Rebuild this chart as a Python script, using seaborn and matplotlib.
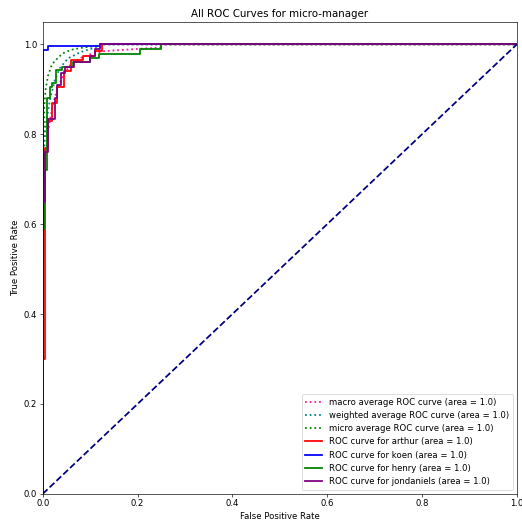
import matplotlib
matplotlib.use("Agg")
import matplotlib.pyplot as plt
import seaborn as sns

plt.rcParams["font.size"] = 10.6

title = "All ROC Curves for micro-manager"

macro_fpr = [0, 0, 0.004, 0.01, 0.02, 0.03, 0.045, 0.06, 0.08, 0.1, 0.13, 0.2, 0.25, 0.25, 1]
macro_tpr = [0, 0.45, 0.72, 0.8, 0.86, 0.9, 0.935, 0.957, 0.97, 0.978, 0.985, 0.99, 0.993, 1.0, 1.0]

weighted_fpr = [0, 0, 0.002, 0.006, 0.015, 0.025, 0.036, 0.053, 0.078, 0.1, 0.12, 0.125, 1]
weighted_tpr = [0, 0.6, 0.75, 0.82, 0.876, 0.92, 0.947, 0.969, 0.982, 0.99, 0.993, 1.0, 1.0]

micro_fpr = [0, 0, 0.001, 0.003, 0.006, 0.011, 0.019, 0.03, 0.042, 0.06, 0.085, 0.11, 0.12, 1]
micro_tpr = [0, 0.55, 0.75, 0.86, 0.9, 0.93, 0.955, 0.968, 0.98, 0.988, 0.993, 0.996, 1.0, 1.0]

arthur_fpr = [0, 0, 0.004, 0.004, 0.012, 0.012, 0.02, 0.02, 0.03, 0.03, 0.045, 0.045, 0.06, 0.06,
              0.085, 0.085, 0.11, 0.11, 0.125, 0.125, 1]
arthur_tpr = [0, 0.3, 0.3, 0.77, 0.77, 0.83, 0.83, 0.87, 0.87, 0.905, 0.905, 0.94, 0.94, 0.965,
              0.965, 0.975, 0.975, 0.985, 0.985, 1.0, 1.0]

koen_fpr = [0, 0, 0.01, 0.01, 0.12, 0.12, 1]
koen_tpr = [0, 0.987, 0.987, 0.996, 0.996, 1.0, 1.0]

henry_fpr = [0, 0, 0.003, 0.003, 0.008, 0.008, 0.015, 0.015, 0.02, 0.02, 0.028, 0.028, 0.04, 0.04,
             0.063, 0.063, 0.1, 0.1, 0.118, 0.118, 0.205, 0.205, 0.25, 0.25, 1]
henry_tpr = [0, 0.59, 0.59, 0.72, 0.72, 0.88, 0.88, 0.905, 0.905, 0.915, 0.915, 0.942, 0.942, 0.95,
             0.95, 0.96, 0.96, 0.969, 0.969, 0.979, 0.979, 0.989, 0.989, 1.0, 1.0]

jondaniels_fpr = [0, 0, 0.005, 0.005, 0.01, 0.01, 0.025, 0.025, 0.03, 0.03, 0.038, 0.038, 0.047, 0.047,
                  0.065, 0.065, 0.1, 0.1, 0.11, 0.11, 0.12, 0.12, 1]
jondaniels_tpr = [0, 0.65, 0.65, 0.76, 0.76, 0.835, 0.835, 0.88, 0.88, 0.909, 0.909, 0.936, 0.936, 0.949,
                  0.949, 0.96, 0.96, 0.975, 0.975, 0.99, 0.99, 1.0, 1.0]

diag = [0, 1]

curves = [
    ("macro average ROC curve (area = 1.0)", macro_fpr, macro_tpr, "deeppink", ":"),
    ("weighted average ROC curve (area = 1.0)", weighted_fpr, weighted_tpr, "teal", ":"),
    ("micro average ROC curve (area = 1.0)", micro_fpr, micro_tpr, "green", ":"),
    ("ROC curve for arthur (area = 1.0)", arthur_fpr, arthur_tpr, "red", "-"),
    ("ROC curve for koen (area = 1.0)", koen_fpr, koen_tpr, "blue", "-"),
    ("ROC curve for henry (area = 1.0)", henry_fpr, henry_tpr, "green", "-"),
    ("ROC curve for jondaniels (area = 1.0)", jondaniels_fpr, jondaniels_tpr, "purple", "-"),
]

fig, ax = plt.subplots(figsize=(9, 9), dpi=58)
fig.subplots_adjust(left=0.082, right=0.990, bottom=0.054, top=0.958)

for label, fx, fy, col, ls in curves:
    sns.lineplot(x=fx, y=fy, ax=ax, sort=False, estimator=None, color=col,
                 linestyle=ls, linewidth=2.2, label=label)

sns.lineplot(x=diag, y=diag, ax=ax, sort=False, estimator=None, color="navy",
             linestyle="--", linewidth=2.2, label="_nolegend_")

ax.set_xlim(0.0, 1.0)
ax.set_ylim(0.0, 1.05)
ax.set_xlabel("False Positive Rate")
ax.set_ylabel("True Positive Rate")
ax.set_title(title)
ax.legend(loc="lower right")

fig.savefig("out.png", dpi=58)
